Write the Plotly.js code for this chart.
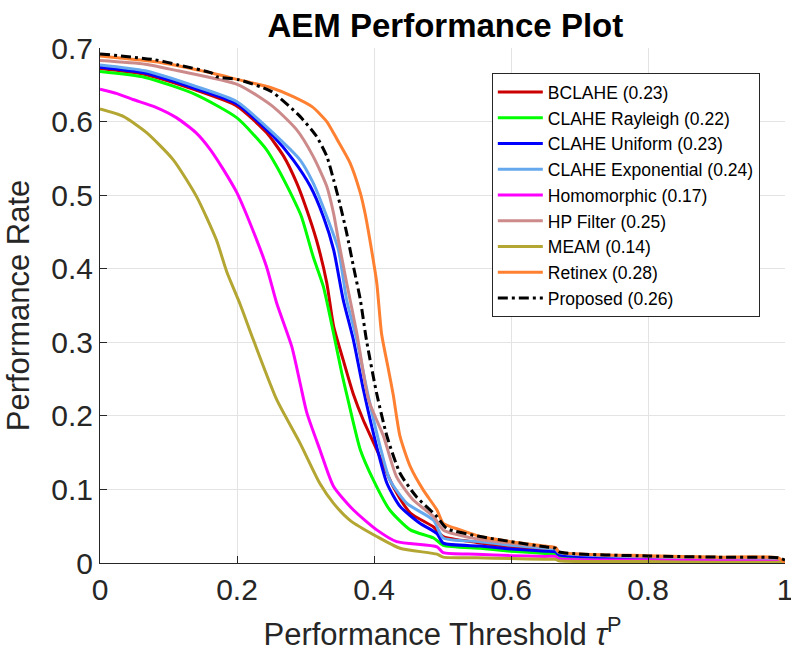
<!DOCTYPE html>
<html>
<head>
<meta charset="utf-8">
<script src="https://cdn.plot.ly/plotly-3.0.1.min.js"></script>
<style>html,body{margin:0;padding:0;background:#fff;}#chart{width:791px;height:658px;}</style>
</head>
<body>
<div id="chart"></div>
<script>
var names = ["BCLAHE (0.23)", "CLAHE Rayleigh (0.22)", "CLAHE Uniform (0.23)", "CLAHE Exponential (0.24)", "Homomorphic (0.17)", "HP Filter (0.25)", "MEAM (0.14)", "Retinex (0.28)", "Proposed (0.26)"];

var bclaheX = [0, 0.066, 0.139, 0.2, 0.243, 0.268, 0.287, 0.300, 0.316, 0.331, 0.341, 0.355, 0.37, 0.384, 0.404, 0.428, 0.453, 0.487, 0.501, 0.55, 0.6, 0.65, 0.665, 0.67, 0.8, 0.9, 0.99, 1];
var bclaheY = [0.672, 0.664, 0.643, 0.621, 0.585, 0.553, 0.517, 0.485, 0.439, 0.381, 0.322, 0.276, 0.229, 0.195, 0.154, 0.104, 0.068, 0.049, 0.036, 0.028, 0.022, 0.018, 0.017, 0.012, 0.007, 0.005, 0.004, 0.0];

var rayleighX = [0, 0.066, 0.139, 0.2, 0.243, 0.258, 0.277, 0.294, 0.311, 0.326, 0.341, 0.353, 0.362, 0.38, 0.399, 0.423, 0.453, 0.487, 0.501, 0.555, 0.6, 0.65, 0.665, 0.67, 0.8, 0.9, 0.99, 1];
var rayleighY = [0.668, 0.660, 0.637, 0.605, 0.562, 0.539, 0.505, 0.471, 0.417, 0.376, 0.312, 0.258, 0.222, 0.154, 0.113, 0.072, 0.045, 0.034, 0.024, 0.020, 0.016, 0.013, 0.012, 0.009, 0.005, 0.004, 0.003, 0];

var uniformX = [0, 0.066, 0.139, 0.2, 0.253, 0.282, 0.307, 0.326, 0.341, 0.355, 0.37, 0.384, 0.404, 0.419, 0.438, 0.467, 0.492, 0.501, 0.555, 0.6, 0.65, 0.665, 0.67, 0.8, 0.9, 0.99, 1];
var uniformY = [0.674, 0.666, 0.645, 0.624, 0.580, 0.548, 0.512, 0.471, 0.426, 0.358, 0.303, 0.238, 0.158, 0.108, 0.077, 0.054, 0.040, 0.027, 0.023, 0.019, 0.016, 0.015, 0.011, 0.006, 0.004, 0.003, 0];

var expX = [0, 0.066, 0.139, 0.2, 0.258, 0.292, 0.311, 0.331, 0.348, 0.36, 0.375, 0.389, 0.409, 0.423, 0.448, 0.487, 0.501, 0.555, 0.6, 0.65, 0.665, 0.67, 0.8, 0.9, 0.99, 1];
var expY = [0.677, 0.669, 0.648, 0.627, 0.580, 0.548, 0.517, 0.471, 0.426, 0.358, 0.303, 0.238, 0.158, 0.113, 0.081, 0.058, 0.034, 0.029, 0.024, 0.020, 0.019, 0.014, 0.008, 0.006, 0.005, 0];

var homoX = [0, 0.025, 0.048, 0.08, 0.112, 0.14, 0.161, 0.18, 0.2, 0.222, 0.243, 0.258, 0.28, 0.292, 0.302, 0.321, 0.341, 0.37, 0.404, 0.433, 0.492, 0.501, 0.55, 0.6, 0.65, 0.665, 0.67, 0.8, 0.9, 0.99, 1];
var homoY = [0.644, 0.638, 0.630, 0.620, 0.605, 0.585, 0.562, 0.535, 0.503, 0.455, 0.403, 0.353, 0.294, 0.245, 0.204, 0.154, 0.104, 0.072, 0.045, 0.029, 0.022, 0.014, 0.012, 0.010, 0.009, 0.009, 0.006, 0.004, 0.003, 0.002, 0];

var hpX = [0, 0.066, 0.114, 0.202, 0.253, 0.287, 0.311, 0.331, 0.341, 0.348, 0.36, 0.375, 0.392, 0.414, 0.433, 0.457, 0.487, 0.501, 0.555, 0.6, 0.65, 0.665, 0.67, 0.8, 0.9, 0.99, 1];
var hpY = [0.683, 0.678, 0.669, 0.650, 0.620, 0.589, 0.553, 0.512, 0.475, 0.439, 0.381, 0.312, 0.222, 0.172, 0.117, 0.086, 0.063, 0.045, 0.032, 0.027, 0.022, 0.021, 0.015, 0.009, 0.007, 0.006, 0];

var meamX = [0, 0.034, 0.068, 0.107, 0.141, 0.170, 0.185, 0.204, 0.224, 0.258, 0.292, 0.321, 0.341, 0.365, 0.404, 0.438, 0.492, 0.501, 0.55, 0.6, 0.65, 0.665, 0.67, 0.8, 0.9, 0.99, 1];
var meamY = [0.617, 0.607, 0.585, 0.548, 0.498, 0.439, 0.396, 0.353, 0.303, 0.222, 0.163, 0.108, 0.081, 0.058, 0.036, 0.020, 0.012, 0.008, 0.007, 0.006, 0.005, 0.005, 0.003, 0.002, 0.001, 0.001, 0];

var retinexX = [0, 0.09, 0.163, 0.202, 0.25, 0.282, 0.31, 0.331, 0.346, 0.365, 0.38, 0.387, 0.394, 0.404, 0.411, 0.42, 0.428, 0.438, 0.453, 0.472, 0.492, 0.501, 0.526, 0.555, 0.6, 0.65, 0.665, 0.67, 0.8, 0.9, 0.99, 1];
var retinexY = [0.689, 0.680, 0.666, 0.657, 0.646, 0.634, 0.620, 0.600, 0.576, 0.544, 0.503, 0.475, 0.439, 0.381, 0.312, 0.268, 0.229, 0.172, 0.131, 0.099, 0.072, 0.054, 0.045, 0.036, 0.029, 0.023, 0.021, 0.015, 0.010, 0.008, 0.007, 0];

var proposedX = [0, 0.08, 0.114, 0.163, 0.17, 0.202, 0.25, 0.292, 0.316, 0.331, 0.341, 0.35, 0.36, 0.37, 0.38, 0.389, 0.404, 0.419, 0.438, 0.462, 0.492, 0.506, 0.555, 0.6, 0.65, 0.665, 0.67, 0.8, 0.9, 0.99, 1];
var proposedY = [0.692, 0.684, 0.677, 0.666, 0.661, 0.657, 0.641, 0.607, 0.580, 0.553, 0.521, 0.489, 0.449, 0.403, 0.358, 0.303, 0.230, 0.172, 0.122, 0.090, 0.063, 0.047, 0.036, 0.029, 0.022, 0.020, 0.015, 0.0095, 0.008, 0.007, 0.004];

var colors = ["#cc0000", "#00ff00", "#0000ff", "#66a8ee", "#ff00ff", "#cc8a8a", "#b3a632", "#ff8030", "#000000"];
var xs = [bclaheX, rayleighX, uniformX, expX, homoX, hpX, meamX, retinexX, proposedX];
var ys = [bclaheY, rayleighY, uniformY, expY, homoY, hpY, meamY, retinexY, proposedY];

var traces = [];
for (var i = 0; i < names.length; i++) {
  traces.push({
    type: "scatter", mode: "lines", name: names[i], x: xs[i], y: ys[i],
    line: {color: colors[i], width: 3, shape: "spline", smoothing: 0.6, dash: i === 8 ? "10px,4px,3px,4px" : "solid"}
  });
}

var axisFont = {family: "Liberation Sans, Arial, sans-serif", size: 30, color: "#262626"};
var titleFont = {family: "Liberation Sans, Arial, sans-serif", size: 31, color: "#262626"};
var layout = {
  width: 791, height: 658,
  margin: {l: 100, r: 6, t: 48, b: 95},
  paper_bgcolor: "#ffffff", plot_bgcolor: "#ffffff",
  showlegend: true,
  title: {text: "<b>AEM Performance Plot</b>", x: 0.563, xanchor: "center", y: 0.962, yanchor: "middle",
          font: {family: "Liberation Sans, Arial, sans-serif", size: 33, color: "#000000"}},
  xaxis: {range: [0, 1], tickvals: [0, 0.2, 0.4, 0.6, 0.8, 1], ticktext: ["0", "0.2", "0.4", "0.6", "0.8", "1"],
          showgrid: true, gridcolor: "#e3e3e3", gridwidth: 1, zeroline: false,
          showline: true, linecolor: "#262626", linewidth: 1, mirror: false,
          ticks: "inside", ticklen: 7, tickcolor: "#262626",
          ticklabeloverflow: "allow",
          tickfont: axisFont,
          title: {text: "Performance Threshold <i>τ</i><sup>P</sup>", font: titleFont, standoff: 18}},
  yaxis: {range: [0, 0.7], tickvals: [0, 0.1, 0.2, 0.3, 0.4, 0.5, 0.6, 0.7], ticktext: ["0", "0.1", "0.2", "0.3", "0.4", "0.5", "0.6", "0.7"],
          showgrid: true, gridcolor: "#e3e3e3", gridwidth: 1, zeroline: false,
          showline: true, linecolor: "#262626", linewidth: 1, mirror: false,
          ticks: "inside", ticklen: 7, tickcolor: "#262626",
          tickfont: axisFont,
          title: {text: "Performance Rate", font: titleFont, standoff: 12}},
  legend: {x: 0.572, y: 0.951, xanchor: "left", yanchor: "top",
           bgcolor: "#ffffff", bordercolor: "#262626", borderwidth: 1,
           font: {family: "Liberation Sans, Arial, sans-serif", size: 17.5, color: "#000000"},
           tracegroupgap: 0, itemwidth: 45}
};

Plotly.newPlot("chart", traces, layout, {displayModeBar: false, staticPlot: true});
</script>
</body>
</html>
